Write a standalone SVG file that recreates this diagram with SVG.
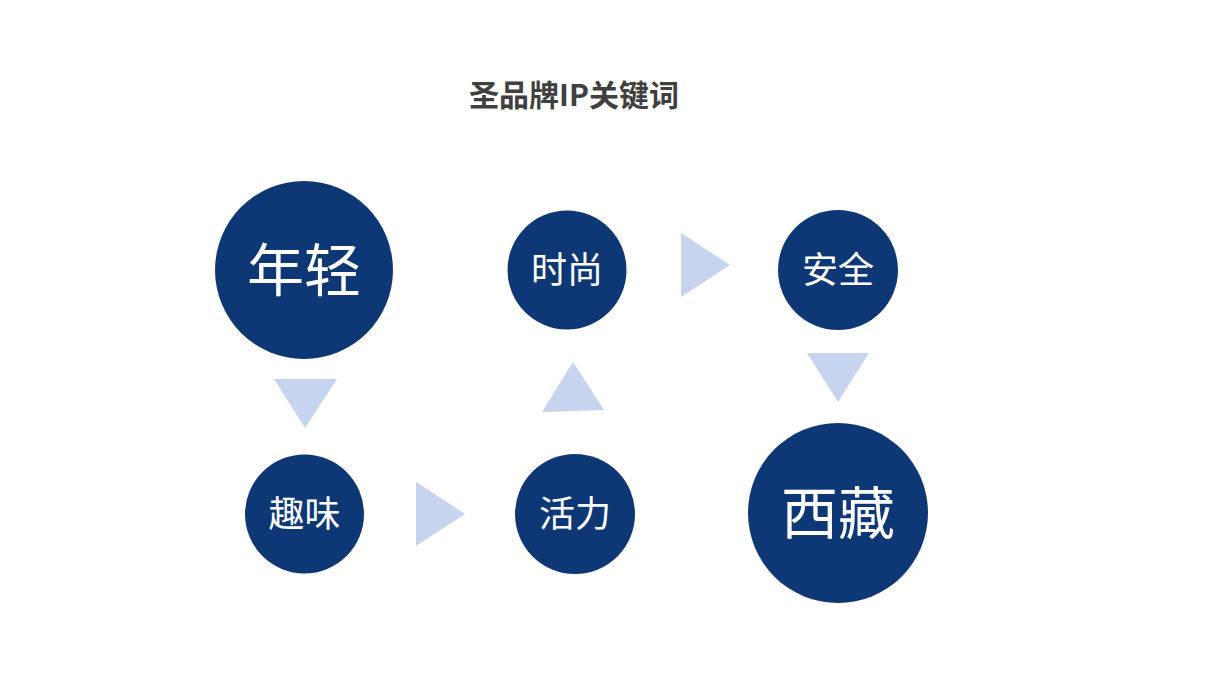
<svg xmlns="http://www.w3.org/2000/svg" width="1210" height="680" viewBox="0 0 1210 680">
<style>
.c{fill:#0E3875}
.t{fill:#C6D4F0}
.lb{fill:#ffffff;font-family:"Microsoft YaHei","Noto Sans CJK SC",sans-serif;text-anchor:middle;font-weight:normal}
.big{font-size:57px}
.sm{font-size:36px}
.title{fill:#404040;font-family:"Microsoft YaHei","Noto Sans CJK SC",sans-serif;font-weight:bold;font-size:30px;text-anchor:middle}
</style>
<rect width="1210" height="680" fill="#ffffff"/>
<text class="title" x="574" y="106">圣品牌IP关键词</text>
<g id="connectors">
<polygon class="t" points="274,379 337,379 305,428"/>
<polygon class="t" points="416,482 416,546 465,514"/>
<polygon class="t" points="573,362 542,412 604,410"/>
<polygon class="t" points="681,233 681,297 730,265"/>
<polygon class="t" points="807,353 869,353 838,402"/>
</g>
<g id="node-nianqing"><circle class="c" cx="304" cy="270" r="89"/><text class="lb big" x="304" y="291">年轻</text></g>
<g id="node-shishang"><circle class="c" cx="567" cy="270" r="59.5"/><text class="lb sm" x="567" y="283">时尚</text></g>
<g id="node-anquan"><circle class="c" cx="838" cy="270" r="60"/><text class="lb sm" x="838" y="283">安全</text></g>
<g id="node-quwei"><circle class="c" cx="304.5" cy="514" r="59.5"/><text class="lb sm" x="304.5" y="527">趣味</text></g>
<g id="node-huoli"><circle class="c" cx="575" cy="514" r="60"/><text class="lb sm" x="575" y="527">活力</text></g>
<g id="node-xizang"><circle class="c" cx="838" cy="513" r="90"/><text class="lb big" x="838" y="534">西藏</text></g>
</svg>
